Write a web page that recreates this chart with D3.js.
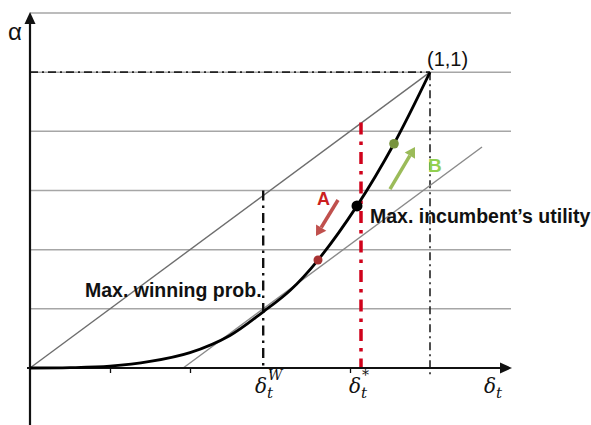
<!DOCTYPE html>
<html>
<head>
<meta charset="utf-8">
<script src="https://cdn.jsdelivr.net/npm/d3@7"></script>
<style>
  html, body { margin: 0; padding: 0; background: #fff; }
  svg { display: block; }
</style>
</head>
<body>
<svg id="chart" width="591" height="425"></svg>
<script>
// ---- data ----
const curveDelta = [0, 0.1, 0.2, 0.3, 0.4, 0.5, 0.583, 0.65, 0.72, 0.8175, 0.91, 1];
const curveAlpha = [0, 0.001, 0.006, 0.022, 0.052, 0.11, 0.19, 0.262, 0.365, 0.548, 0.758, 1];
const gridAlpha = [0, 0.2, 0.4, 0.6, 0.8, 1.0, 1.2];
const tickDelta = [0.2, 0.4, 0.6, 0.8];
const diagDelta = [0, 1];
const diagAlpha = [0, 1];
const tangentDelta = [0.383, 1.13];
const tangentAlpha = [0, 0.747];
const deltaW = 0.583, deltaWTop = 0.6;
const deltaStar = 0.8275, deltaStarTop = 0.83;
const pointDelta = [0.72, 0.8175, 0.91];
const pointAlpha = [0.365, 0.548, 0.758];
const pointNames = ["A", "opt", "B"];

// ---- scales ----
const svg = d3.select("#chart");
const x = d3.scaleLinear().domain([0, 1.2]).range([30, 510]);
const y = d3.scaleLinear().domain([0, 1.2]).range([368, 13]);

// grid lines
svg.append("g").selectAll("line").data(gridAlpha.slice(1)).join("line")
  .attr("x1", x(0)).attr("x2", x(1.2) + 1)
  .attr("y1", d => y(d)).attr("y2", d => y(d))
  .attr("stroke", "#a6a6a6").attr("stroke-width", 1.5);

// horizontal dash-dot to (1,1)
svg.append("line")
  .attr("x1", x(0)).attr("x2", x(1)).attr("y1", y(1)).attr("y2", y(1))
  .attr("stroke", "#222").attr("stroke-width", 1.6).attr("stroke-dasharray", "8,4,2,4");

// vertical dash-dot at delta=1
svg.append("line")
  .attr("x1", x(1)).attr("x2", x(1)).attr("y1", y(1)).attr("y2", y(0) + 10)
  .attr("stroke", "#222").attr("stroke-width", 1.6).attr("stroke-dasharray", "8,4,2,4");

// diagonal and tangent (gray)
const diag = diagDelta.map((d, i) => [d, diagAlpha[i]]);
const tang = tangentDelta.map((d, i) => [d, tangentAlpha[i]]);
const lineGen = d3.line().x(d => x(d[0])).y(d => y(d[1]));
svg.append("path").attr("d", lineGen(diag)).attr("fill", "none")
  .attr("stroke", "#6e6e6e").attr("stroke-width", 1.4);
svg.append("path").attr("d", lineGen(tang)).attr("fill", "none")
  .attr("stroke", "#8a8a8a").attr("stroke-width", 1.4);

// delta^W vertical
svg.append("line")
  .attr("x1", x(deltaW)).attr("x2", x(deltaW)).attr("y1", y(deltaWTop)).attr("y2", y(0))
  .attr("stroke", "#111").attr("stroke-width", 2.4).attr("stroke-dasharray", "10,5,2.5,5");

// delta* vertical (red)
svg.append("line")
  .attr("x1", x(deltaStar)).attr("x2", x(deltaStar)).attr("y1", y(deltaStarTop)).attr("y2", y(0))
  .attr("stroke", "#d0021b").attr("stroke-width", 3.5).attr("stroke-dasharray", "12,7,3.5,7");

// x axis ticks via d3 axis
const xAxis = d3.axisBottom(x).tickValues(tickDelta).tickSize(5).tickFormat("");
const gx = svg.append("g").attr("transform", `translate(0,${y(0)})`).call(xAxis);
gx.select(".domain").remove();
gx.selectAll(".tick line").attr("stroke", "#111").attr("stroke-width", 1.3);

// axes lines
svg.append("line").attr("x1", x(0) - 3).attr("x2", 503).attr("y1", y(0)).attr("y2", y(0))
  .attr("stroke", "#111").attr("stroke-width", 2.2);
svg.append("path")
  .attr("d", `M512,${y(0)} L500,${y(0) - 5.5} L500,${y(0) + 5.5} Z`).attr("fill", "#111");
svg.append("line").attr("x1", x(0)).attr("x2", x(0)).attr("y1", 22).attr("y2", 425)
  .attr("stroke", "#111").attr("stroke-width", 2.2);
svg.append("path")
  .attr("d", `M${x(0)},12 L${x(0) - 5.5},24 L${x(0) + 5.5},24 Z`).attr("fill", "#111");

// main curve
const curvePts = curveDelta.map((d, i) => [d, curveAlpha[i]]);
svg.append("path")
  .attr("d", d3.line().x(d => x(d[0])).y(d => y(d[1])).curve(d3.curveCatmullRom.alpha(0.5))(curvePts))
  .attr("fill", "none").attr("stroke", "#000").attr("stroke-width", 2.8);

// points
const pColors = ["#a83232", "#000", "#77933c"];
const pR = [4.5, 5.5, 4.8];
svg.append("g").selectAll("circle").data(pointDelta).join("circle")
  .attr("cx", d => x(d)).attr("cy", (d, i) => y(pointAlpha[i]))
  .attr("r", (d, i) => pR[i]).attr("fill", (d, i) => pColors[i]);

// annotation arrows
function arrow(x1, y1, x2, y2, color, w) {
  const ang = Math.atan2(y2 - y1, x2 - x1);
  const hl = 10, hw = 6;
  const bx = x2 - hl * Math.cos(ang), by = y2 - hl * Math.sin(ang);
  svg.append("line").attr("x1", x1).attr("y1", y1).attr("x2", bx).attr("y2", by)
    .attr("stroke", color).attr("stroke-width", w);
  const px = -Math.sin(ang), py = Math.cos(ang);
  svg.append("path")
    .attr("d", `M${x2},${y2} L${bx + px * hw},${by + py * hw} L${bx - px * hw},${by - py * hw} Z`)
    .attr("fill", color);
}
arrow(x(0.77), y(0.568), x(0.715), y(0.446), "#c0504d", 3.5);
arrow(x(0.9), y(0.605), x(0.9625), y(0.747), "#9bbb59", 3.5);

// texts
const sans = "Liberation Sans, Arial, sans-serif";
svg.append("text").attr("x", 8).attr("y", 40).text("α")
  .attr("font-family", sans).attr("font-size", 24).attr("fill", "#111");
svg.append("text").attr("x", 427).attr("y", 66).text("(1,1)")
  .attr("font-family", sans).attr("font-size", 20).attr("fill", "#111");
svg.append("text").attr("x", 317).attr("y", 205).text("A")
  .attr("font-family", sans).attr("font-weight", "bold")
  .attr("font-size", 18).attr("fill", "#cc1f1f");
svg.append("text").attr("x", 428).attr("y", 172).text("B")
  .attr("font-family", sans).attr("font-weight", "bold")
  .attr("font-size", 19).attr("fill", "#92d050");
svg.append("text").attr("x", 370).attr("y", 223).text("Max. incumbent’s utility")
  .attr("font-family", sans).attr("font-weight", "bold")
  .attr("font-size", 19.5).attr("fill", "#111");
svg.append("text").attr("x", 85).attr("y", 297).text("Max. winning prob.")
  .attr("font-family", sans).attr("font-weight", "bold")
  .attr("font-size", 19.5).attr("fill", "#111");

// delta labels
function deltaLabel(cx, sup) {
  const t = svg.append("text").attr("x", cx).attr("y", 393)
    .attr("font-family", "DejaVu Serif, Liberation Serif, serif").attr("font-style", "italic")
    .attr("font-size", 20).attr("fill", "#111");
  t.append("tspan").text("δ");
  t.append("tspan").attr("font-size", 15).attr("dy", 5).text("t");
  if (sup) {
    t.append("tspan").attr("font-size", 14).attr("dx", -5).attr("dy", -18).text(sup);
  }
}
deltaLabel(255, "W");
deltaLabel(349, "*");
deltaLabel(484, null);
</script>
</body>
</html>
